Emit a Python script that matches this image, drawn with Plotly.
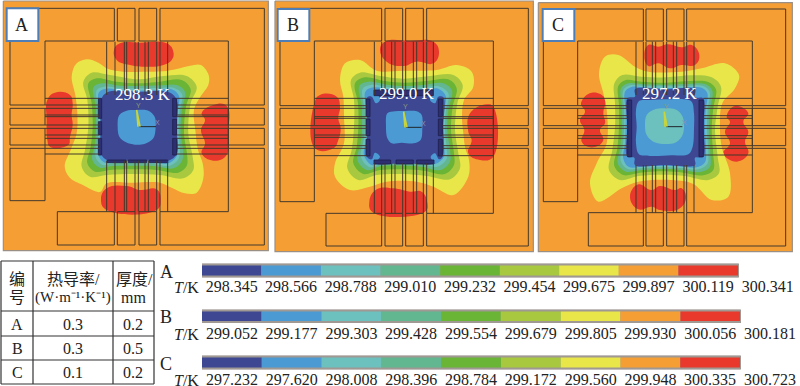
import plotly.graph_objects as go

W, H = 800, 386
SERIF = "Liberation Serif, Noto Sans CJK SC, serif"
NAVY, BLUE, TEAL, TEALG, GREEN, LIME, YELLOW, ORANGE, RED = (
    "#3d4792", "#4b9ad3", "#6cc0bd", "#62b690", "#6ab436", "#a8c93f", "#e9e64a", "#f59e34", "#e8392c")
BAND_COLORS = [NAVY, BLUE, TEAL, TEALG, GREEN, LIME, YELLOW, ORANGE, RED]
LINE = "#43382a"

# colour-bar temperatures
TEMPS_A = [298.345, 298.566, 298.788, 299.010, 299.232, 299.454, 299.675, 299.897, 300.119, 300.341]
TEMPS_B = [299.052, 299.177, 299.303, 299.428, 299.554, 299.679, 299.805, 299.930, 300.056, 300.181]
TEMPS_C = [297.232, 297.620, 298.008, 298.396, 298.784, 299.172, 299.560, 299.948, 300.335, 300.723]

# table
TABLE_IDS = ["A", "B", "C"]
TABLE_K = ["0.3", "0.3", "0.1"]
TABLE_T = ["0.2", "0.5", "0.2"]

# ---- contour outlines, panel units (3 units = 1 px) ----
A_RED = [
    [(342,150),(360,130),(420,128),(500,130),(520,155),(515,180),(490,195),(440,200),(390,195),(350,180)],
    [(303,600),(320,565),(380,558),(420,570),(470,568),(482,600),(470,630),(320,630)],
    [(142,300),(165,278),(210,285),(218,310),(215,345),(218,375),(210,410),(205,435),(150,440),(142,420),(140,360)],
    [(605,340),(640,315),(680,318),(685,400),(680,465),(640,482),(605,460),(615,430),(603,390),(615,360)],
]
A_YELLOW = [(215,230),(228,192),(260,178),(295,188),(325,207),(370,215),(430,215),(490,214),(530,207),(570,197),(603,195),(626,225),(625,255),(600,292),
            (582,330),(586,390),(594,450),(608,490),(610,535),(590,578),(555,580),(515,563),(480,548),(400,548),(320,550),(300,576),(250,556),(208,532),
            (194,498),(212,450),(230,400),(232,340),(226,285)]
A_LIME = [(250,245),(275,218),(330,225),(415,238),(490,228),(560,228),(590,260),(572,310),(565,400),(578,470),(580,510),(550,535),(480,525),(400,522),(320,525),(270,530),(245,500),(255,450),(265,380),(262,300)]
A_GREEN = [(265,250),(290,235),(350,245),(415,250),(480,245),(545,240),(572,268),(558,320),(552,400),(562,470),(560,498),(535,518),(470,510),(400,508),(330,510),(285,515),(262,490),(272,440),(278,380),(275,310)]
A_TEALG = [(280,262),(305,250),(360,257),(415,258),(480,256),(530,255),(555,275),(546,330),(542,400),(550,460),(545,485),(520,505),(460,498),(400,497),(335,498),(300,503),(277,480),(285,430),(288,380),(287,320)]
A_TEAL = [(290,270),(312,260),(365,265),(415,265),(475,264),(520,263),(546,282),(538,340),(536,400),(540,450),(535,478),(510,497),(455,491),(400,490),(340,490),(308,495),(287,472),(293,420),(295,380),(295,330)]
A_BLUE = [(296,278),(318,266),(370,272),(415,272),(470,270),(515,268),(537,288),(532,340),(531,400),(534,445),(528,472),(505,490),(450,485),(400,484),(345,484),(315,488),(295,465),(299,420),(300,380),(300,335)]
A_NAVY = [(303,300),(322,277),(415,275),(507,277),(530,300),(530,385),(530,462),(505,482),(415,480),(325,482),(303,462),(303,385)]
A_CORE = [(353,380),(358,345),(385,331),(410,330),(445,332),(464,350),(467,382),(460,415),(435,431),(405,434),(378,427),(358,410)]
A_PADS = [(295,295,305,355),(295,365,305,405),(295,415,305,465),(518,295,530,350),(518,358,530,405),(518,415,530,465),
          (322,480,378,488),(385,480,440,488),(448,480,503,488)]

B_RED = [
    [(330,150),(345,125),(420,122),(490,125),(507,155),(490,190),(440,185),(400,198),(350,185)],
    [(298,605),(320,568),(370,565),(420,575),(455,575),(472,610),(465,635),(310,638)],
    [(133,310),(150,285),(200,290),(210,320),(205,355),(212,385),(205,420),(190,445),(135,445)],
    [(595,395),(600,340),(650,313),(670,320),(670,470),(630,480),(595,460),(605,420)],
]
B_YELLOW = [(210,240),(225,190),(270,180),(320,212),(400,212),(500,210),(560,195),(605,215),(610,260),(582,300),(576,350),(580,400),(586,445),
            (597,480),(595,530),(550,585),(490,560),(440,545),(350,545),(300,560),(240,570),(195,530),(195,490),(222,430),(222,350),(220,290)]
B_LIME = [(243,240),(270,218),(330,228),(400,236),(480,228),(550,225),(578,255),(562,310),(555,390),(565,460),(570,505),(540,538),(470,528),(400,522),(320,525),(265,540),(232,505),(245,450),(252,380),(252,300)]
B_GREEN = [(255,250),(285,232),(345,243),(405,248),(470,243),(535,238),(560,265),(548,320),(543,390),(552,460),(552,495),(525,522),(460,512),(400,508),(330,510),(280,522),(250,490),(260,440),(265,380),(264,310)]
B_TEALG = [(268,258),(295,245),(350,254),(405,258),(465,254),(520,250),(546,272),(535,330),(532,390),(540,450),(540,485),(512,510),(455,500),(400,497),(335,498),(290,510),(262,480),(272,430),(276,380),(275,320)]
B_TEAL = [(278,266),(305,254),(355,262),(405,265),(460,262),(510,260),(535,280),(527,340),(525,390),(530,445),(530,476),(502,500),(450,491),(400,490),(340,490),(300,502),(273,472),(281,420),(285,380),(284,330)]
B_BLUE = [(286,275),(312,262),(360,269),(405,271),(455,269),(505,266),(527,287),(521,340),(519,390),(523,445),(522,470),(495,492),(445,486),(400,484),(345,484),(305,495),(282,465),(289,420),(291,380),(291,335)]
B_NAVY = [(292,292),(305,290),(318,310),(330,300),(322,272),(405,272),(490,272),(480,300),(495,310),(505,290),(520,292),(520,380),(518,470),(507,478),(495,460),(482,470),(490,490),(405,490),(315,490),(330,470),(315,458),(305,478),(292,472),(293,380)]
B_CORE = [(348,378),(352,340),(375,334),(405,333),(440,334),(455,345),(457,385),(452,420),(430,430),(395,428),(365,430),(352,415)]
B_PADS = [(288,297,300,350),(288,357,300,407),(288,418,300,468),(505,297,517,350),(505,357,517,407),(505,418,517,468),
          (312,270,490,287),(312,480,362,492),(378,480,430,492),(440,480,492,492)]

C_RED = [
    [(328,165),(340,135),(370,140),(400,133),(440,142),(470,135),(493,165),(480,195),(440,195),(405,205),(370,190),(340,198)],
    [(285,590),(310,553),(350,570),(375,558),(420,570),(440,565),(453,595),(430,628),(375,630),(350,620),(310,628)],
    [(138,310),(170,278),(210,295),(205,340),(210,370),(195,390),(205,420),(175,442),(140,425),(148,390),(135,360),(150,335)],
    [(575,350),(600,318),(640,340),(625,365),(640,395),(630,425),(640,460),(605,485),(565,460),(585,430),(570,395),(585,365)],
]
C_YELLOW = [(192,220),(210,170),(250,165),(300,200),(340,215),(440,215),(500,205),(570,190),(612,225),(600,265),(562,310),(555,380),
            (560,440),(585,520),(580,590),(530,600),(475,552),(410,540),(310,545),(260,565),(190,605),(165,550),(185,490),(215,430),(215,330),(205,280)]
C_LIME = [(238,250),(262,225),(320,230),(395,232),(470,226),(530,232),(558,260),(548,320),(540,390),(548,470),(552,520),(520,540),(450,528),(390,524),(310,528),(255,540),(222,510),(232,450),(240,380),(240,310)]
C_GREEN = [(250,258),(272,240),(320,245),(395,248),(465,243),(520,246),(543,268),(535,325),(530,390),(535,465),(535,510),(505,526),(445,518),(390,514),(315,518),(265,525),(238,498),(247,445),(252,380),(252,315)]
C_TEALG = [(258,265),(280,250),(325,253),(395,254),(460,252),(510,252),(532,272),(525,330),(522,390),(526,460),(525,500),(497,516),(440,510),(390,507),(320,510),(272,515),(248,490),(256,440),(260,380),(260,320)]
C_TEAL = [(265,270),(285,256),(330,258),(395,259),(455,258),(505,258),(524,276),(518,330),(516,390),(520,455),(517,492),(490,508),(435,504),(390,502),(325,504),(278,507),(257,482),(264,435),(267,380),(267,325)]
C_BLUE = [(270,275),(290,261),(335,263),(395,264),(450,263),(500,263),(517,280),(512,330),(510,390),(513,450),(510,487),(485,502),(430,499),(390,498),(330,499),(282,501),(265,476),(270,430),(272,380),(272,330)]
C_NAVY = [(277,295),(300,290),(300,268),(390,268),(480,268),(480,292),(505,295),(505,380),(505,470),(480,473),(480,495),(390,495),(300,495),(298,473),(277,470),(277,380)]
C_INNER = [(303,330),(312,303),(345,300),(390,298),(450,298),(470,305),(477,340),(477,385),(473,440),(460,463),(410,466),(345,468),(312,463),(303,430),(305,380)]
C_CORE = [(330,380),(335,345),(360,328),(395,325),(425,330),(443,350),(447,385),(440,410),(420,428),(390,432),(355,425),(335,405)]
C_PADS = [(278,300,290,470),(492,300,505,470)]

# edges of the copper outlines in each panel:
# L, PL, C1, C2a, C2b, C3a, C3b, C4, PR, R, BX / T, PT, Y315, Y325, Y375, Y385, Y435, Y445, Y602, Y635, B
A_EDGES = ([30,135,343,352,405,417,470,480,685,793,172], [25,123,315,325,375,385,435,445,602,635,735])
B_EDGES = ([30,133,335,345,398,407,460,470,670,775,168], [25,123,317,325,377,385,437,445,605,640,738])
C_EDGES = ([25,128,325,333,385,395,447,455,652,752,160], [27,123,317,325,377,385,437,445,605,638,738])

A_LEADX = [320,345,373,380,405,415,435,445,470,480,503]
B_LEADX = [313,335,345,365,375,398,407,430,440,460,470,490]
C_LEADX = [303,325,333,352,362,385,395,415,425,447,455,477]
A_LEADY = [295,315,325,345,350,375,385,405,415,435,445,462]
B_LEADY = [295,317,325,350,355,377,385,405,412,437,445,467]
C_LEADY = [295,317,325,347,355,377,385,407,415,437,445,465]

panels = [
    dict(name="A", label="298.3 K", px=(0,270), rx=810, frame=(10,3,805,752), box=(20,25,115,123),
         red=A_RED, levels=[(A_YELLOW,YELLOW),(A_LIME,LIME),(A_GREEN,GREEN),(A_TEALG,TEALG),(A_TEAL,TEAL),(A_BLUE,BLUE),(A_NAVY,NAVY),(A_CORE,BLUE)],
         pads=A_PADS, edges=A_EDGES, lx=A_LEADX, ly=A_LEADY, tops=(125,285,482,635), sides=(135,297,530,685),
         origin=(417,380), yt=(410,330), xt=(468,380), lab=(427,283)),
    dict(name="B", label="299.0 K", px=(270,535), rx=795, frame=(15,3,790,755), box=(23,27,118,123),
         red=B_RED, levels=[(B_YELLOW,YELLOW),(B_LIME,LIME),(B_GREEN,GREEN),(B_TEALG,TEALG),(B_TEAL,TEAL),(B_BLUE,BLUE),(B_NAVY,NAVY),(B_CORE,BLUE)],
         pads=B_PADS, edges=B_EDGES, lx=B_LEADX, ly=B_LEADY, tops=(125,285,490,640), sides=(133,290,517,670),
         origin=(408,382), yt=(401,335), xt=(455,382), lab=(408,280)),
    dict(name="C", label="297.2 K", px=(535,800), rx=795, frame=(10,8,772,755), box=(23,27,118,123),
         red=C_RED, levels=[(C_YELLOW,YELLOW),(C_LIME,LIME),(C_GREEN,GREEN),(C_TEALG,TEALG),(C_TEAL,TEAL),(C_BLUE,BLUE),(C_NAVY,NAVY),(C_INNER,BLUE),(C_CORE,TEAL)],
         pads=C_PADS, edges=C_EDGES, lx=C_LEADX, ly=C_LEADY, tops=(125,285,495,638), sides=(128,280,505,652),
         origin=(393,380), yt=(388,335), xt=(442,380), lab=(402,280)),
]

fig = go.Figure()
layout = dict(width=W, height=H, margin=dict(l=0, r=0, t=0, b=0), paper_bgcolor="white", plot_bgcolor="rgba(0,0,0,0)",
              showlegend=False, barmode="overlay", autosize=False)
annots, shapes = [], []
hidden = dict(visible=False, fixedrange=True)


def closed(pts):
    xs = [p[0] for p in pts] + [pts[0][0]]
    ys = [p[1] for p in pts] + [pts[0][1]]
    return xs, ys


def poly_lines(segs):
    xs, ys = [], []
    for s in segs:
        xs += [p[0] for p in s] + [None]
        ys += [p[1] for p in s] + [None]
    return xs, ys


def rect(x0, y0, x1, y1):
    return [(x0,y0),(x1,y0),(x1,y1),(x0,y1),(x0,y0)]


def label(x, y, xref, yref, text, size, color="#222", family=SERIF):
    annots.append(dict(x=x, y=y, xref=xref, yref=yref, text=text, showarrow=False, xanchor="center", yanchor="middle",
                       font=dict(family=family, size=size, color=color)))


def outlines(edges):
    (L, PL, C1, C2a, C2b, C3a, C3b, C4, PR, R, BX), (T, PT, Y1, Y2, Y3, Y4, Y5, Y6, Y7, Y8, B) = edges
    return [
        [(L,T),(C1,T),(C1,PT),(PL,PT),(PL,Y1),(L,Y1),(L,T)],
        [(C4,T),(R,T),(R,Y1),(PR,Y1),(PR,PT),(C4,PT),(C4,T)],
        rect(C2a,T,C2b,PT), rect(C3a,T,C3b,PT),
        rect(L,Y2,PL,Y3), rect(L,Y4,PL,Y5), rect(PR,Y2,R,Y3), rect(PR,Y4,R,Y5),
        rect(L,Y6,PL,Y7),
        [(C4,Y8),(PR,Y8),(PR,Y6),(R,Y6),(R,B),(C4,B),(C4,Y8)],
        rect(BX,Y8,C1,B), rect(C2a,Y8,C2b,B), rect(C3a,Y8,C3b,B),
        [(PL,Y5),(PL,Y6)], [(PR,Y1),(PR,Y6)],
    ]


for i, p in enumerate(panels, start=1):
    xa, ya = ("x" if i == 1 else f"x{i}"), ("y" if i == 1 else f"y{i}")
    xk, yk = ("xaxis" if i == 1 else f"xaxis{i}"), ("yaxis" if i == 1 else f"yaxis{i}")
    layout[xk] = dict(domain=[p["px"][0]/W, p["px"][1]/W], range=[0, p["rx"]], anchor=ya, **hidden)
    layout[yk] = dict(domain=[1-255/H, 1], range=[765, 0], anchor=xa, **hidden)
    kw = dict(xaxis=xa, yaxis=ya, hoverinfo="skip")

    fx0, fy0, fx1, fy1 = p["frame"]
    x, y = closed(rect(fx0, fy0, fx1, fy1)[:-1])
    fig.add_trace(go.Scatter(x=x, y=y, mode="lines", fill="toself", fillcolor=ORANGE, line=dict(color="#9a8f85", width=1.2), **kw))

    for blob in p["red"]:
        x, y = closed(blob)
        fig.add_trace(go.Scatter(x=x, y=y, mode="lines", fill="toself", fillcolor=RED, line=dict(color=RED, width=0, shape="spline", smoothing=1.3), **kw))
    for pts, col in p["levels"]:
        x, y = closed(pts)
        fig.add_trace(go.Scatter(x=x, y=y, mode="lines", fill="toself", fillcolor=col, line=dict(color=col, width=0, shape="spline", smoothing=1.0), **kw))
    for r in p["pads"]:
        x, y = closed(rect(*r)[:-1])
        fig.add_trace(go.Scatter(x=x, y=y, mode="lines", fill="toself", fillcolor="#2c2f72", line=dict(color="#20204a", width=0.8), **kw))

    segs = outlines(p["edges"])
    y0, y1, y2, y3 = p["tops"]
    for lx in p["lx"]:
        segs += [[(lx,y0),(lx,y1)], [(lx,y2),(lx,y3)]]
    x0, x1, x2, x3 = p["sides"]
    for ly in p["ly"]:
        segs += [[(x0,ly),(x1,ly)], [(x2,ly),(x3,ly)]]
    x, y = poly_lines(segs)
    fig.add_trace(go.Scatter(x=x, y=y, mode="lines", line=dict(color=LINE, width=1), connectgaps=False, **kw))

    o, yt, xt = p["origin"], p["yt"], p["xt"]
    x, y = poly_lines([[o, xt]])
    fig.add_trace(go.Scatter(x=x, y=y, mode="lines", line=dict(color="#20262a", width=1), **kw))
    x, y = poly_lines([[(o[0]-3, o[1]), yt, (o[0]+3, o[1])]])
    fig.add_trace(go.Scatter(x=x, y=y, mode="lines", line=dict(color="#c8d43a", width=1.6), **kw))

    label(yt[0]+6, yt[1]-15, xa, ya, "Y", 7, "#8a9a7a", "Liberation Sans")
    label(xt[0]+5, xt[1]-12, xa, ya, "X", 7, "#8f90b0", "Liberation Sans")
    label(p["lab"][0]+3, p["lab"][1], xa, ya, p["label"], 17, "white")
    bx0, by0, bx1, by1 = p["box"]
    shapes.append(dict(type="rect", xref=xa, yref=ya, x0=bx0, y0=by0, x1=bx1, y1=by1, fillcolor="white",
                       line=dict(color="#4f7db5", width=2), layer="above"))
    label((bx0+bx1)/2-3, (by0+by1)/2, xa, ya, p["name"], 18)

# colour bars
bars = [(TEMPS_A, 263.5, 277.5, 202, 738, "A", 272, 287, -3),
        (TEMPS_B, 309.5, 323, 202, 740, "B", 317, 334, -1),
        (TEMPS_C, 355.5, 369.5, 202, 740, "C", 364, 380, -2)]
for j, (temps, ytop, ybot, xl, xr, name, ylab, ytick, standoff) in enumerate(bars):
    n = 4 + j
    xa, ya = f"x{n}", f"y{n}"
    step = (temps[-1] - temps[0]) / 9
    pxstep = (xr - xl) / 9
    layout[f"xaxis{n}"] = dict(domain=[xl/W, 1], range=[temps[0], temps[0] + step * (W - xl) / pxstep], anchor=ya,
                               showgrid=False, zeroline=False, showline=False, ticks="",
                               tickmode="array", tickvals=[t + step/2 for t in temps],
                               ticktext=[f"{t:.3f}" for t in temps], tickangle=0, ticklabelstandoff=standoff,
                               tickfont=dict(family=SERIF, size=16, color="#222"), fixedrange=True, automargin=False)
    layout[f"yaxis{n}"] = dict(domain=[1-ybot/H, 1-ytop/H], range=[-0.5, 0.5], anchor=xa, **hidden)
    fig.add_trace(go.Bar(y=[0], x=[temps[-1]-temps[0]], base=[temps[0]], width=[1], orientation="h", xaxis=xa, yaxis=ya,
                         marker=dict(color="#9f9893", line=dict(color="#9f9893", width=2)), hoverinfo="skip"))
    for k in range(9):
        fig.add_trace(go.Bar(y=[0], x=[temps[k+1]-temps[k]], base=[temps[k]], width=[0.72], orientation="h", xaxis=xa, yaxis=ya,
                             marker=dict(color=BAND_COLORS[k], line=dict(width=0)), hoverinfo="skip"))
    label(166/W, 1-ylab/H, "paper", "paper", name, 18)
    label(186/W, 1-ytick/H, "paper", "paper", "<i>T</i>/K", 16)

# table
col_x = [1, 33, 113, 154]
row_y = [261, 311, 336, 360, 384]
for cx in col_x:
    shapes.append(dict(type="line", xref="paper", yref="paper", x0=cx/W, x1=cx/W, y0=1-row_y[0]/H, y1=1-row_y[-1]/H,
                       line=dict(color="#333", width=1.2)))
for ry in row_y:
    shapes.append(dict(type="line", xref="paper", yref="paper", x0=col_x[0]/W, x1=col_x[-1]/W, y0=1-ry/H, y1=1-ry/H,
                       line=dict(color="#333", width=1.2)))


def cell(cx, cy, text, size=16):
    label(cx/W, 1-cy/H, "paper", "paper", text, size)


cell(17, 279, "编"); cell(17, 297, "号")
cell(73, 279, "热导率/"); cell(73, 297, "(W·m⁻¹·K⁻¹)", 15)
cell(134, 279, "厚度/"); cell(133, 297, "mm")
for name, k, t, cy in zip(TABLE_IDS, TABLE_K, TABLE_T, [324, 348, 372]):
    cell(17, cy, name); cell(73, cy, k); cell(133, cy, t)

layout["annotations"] = annots
layout["shapes"] = shapes
fig.update_layout(**layout)
fig.write_html("out.html", config=dict(displayModeBar=False),
               post_script="document.documentElement.style.margin='0';document.body.style.margin='0';document.documentElement.style.overflow='hidden';")
